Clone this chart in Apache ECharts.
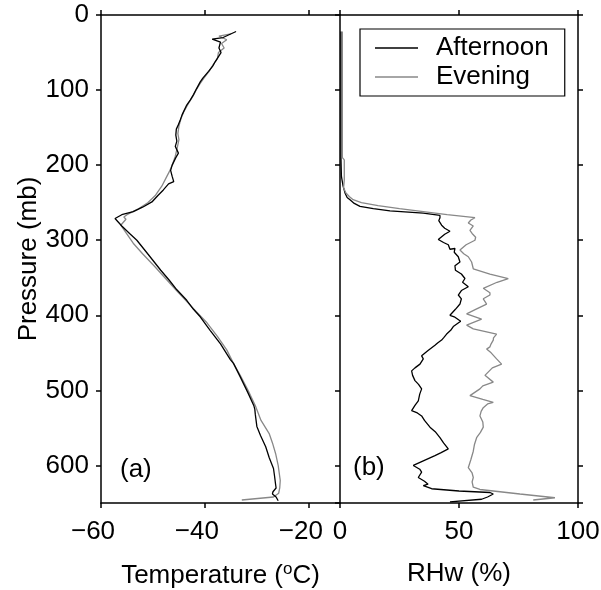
<!DOCTYPE html>
<html>
<head>
<meta charset="utf-8">
<script src="https://cdn.jsdelivr.net/npm/echarts@6/dist/echarts.min.js"></script>
<style>
  html, body { margin: 0; padding: 0; background: #fff; }
  #main { width: 601px; height: 590px; }
</style>
</head>
<body>
<div id="main"></div>
<script>
// temperature profiles, [degC, mb]
var tempAfternoon = [
  [-34.0, 22], [-36.5, 30], [-38.6, 32], [-37.0, 36], [-37.3, 44], [-36.9, 50], [-38.0, 62],
  [-38.5, 68], [-39.3, 75], [-40.4, 84], [-40.9, 89], [-41.6, 98], [-42.2, 106], [-42.8, 113],
  [-43.5, 120], [-44.4, 133], [-44.8, 141], [-45.1, 146], [-45.5, 152], [-45.6, 160],
  [-45.4, 168], [-45.7, 175], [-45.1, 184], [-45.6, 190], [-46.3, 200], [-46.6, 207],
  [-46.3, 215], [-46.0, 222], [-47.0, 225], [-48.0, 233], [-49.0, 240], [-50.2, 249],
  [-52.0, 256], [-53.8, 262], [-56.0, 266], [-57.3, 271], [-56.0, 281], [-54.5, 291],
  [-53.1, 300], [-50.9, 319], [-48.5, 340], [-46.9, 353], [-45.4, 366], [-43.5, 380],
  [-42.2, 392], [-40.9, 402], [-39.0, 420], [-37.0, 438], [-35.1, 459], [-34.5, 464],
  [-33.2, 482], [-31.8, 502], [-30.6, 520], [-30.4, 525], [-30.3, 532], [-30.0, 548],
  [-29.3, 560], [-28.3, 575], [-27.6, 590], [-26.8, 604], [-26.6, 614], [-26.4, 625],
  [-26.3, 630], [-26.9, 635], [-27.0, 638], [-26.3, 642], [-25.9, 647]
];
var tempEvening = [
  [-35.0, 25], [-37.3, 28], [-35.8, 33], [-36.8, 38], [-36.3, 44], [-37.4, 50], [-37.6, 58],
  [-38.4, 66], [-39.2, 75], [-40.2, 84], [-41.0, 92], [-41.7, 100], [-42.3, 108], [-43.2, 118],
  [-44.0, 128], [-44.6, 138], [-45.0, 148], [-45.2, 158], [-45.0, 166], [-45.3, 176],
  [-45.7, 188], [-46.2, 198], [-46.8, 208], [-47.4, 216], [-48.3, 228], [-49.5, 240],
  [-51.0, 250], [-53.0, 259], [-55.0, 266], [-55.6, 269], [-55.2, 272], [-56.2, 280],
  [-55.0, 292], [-53.8, 304], [-52.0, 318], [-49.8, 334], [-47.7, 350], [-45.6, 366],
  [-43.7, 380], [-41.7, 395], [-39.6, 410], [-37.6, 428], [-35.8, 446], [-34.5, 464],
  [-33.2, 480], [-31.7, 500], [-30.2, 522], [-29.2, 540], [-27.6, 558], [-27.0, 570],
  [-26.4, 584], [-25.9, 600], [-25.5, 620], [-25.6, 630], [-25.8, 637], [-26.8, 642],
  [-32.9, 646]
];
// RHw profiles, [%, mb]
var rhAfternoon = [
  [0.4, 22], [0.4, 100], [0.4, 190], [0.6, 215], [1.3, 228], [2.1, 237], [3.0, 243], [4.2, 246],
  [6.0, 251], [8.4, 255], [14, 258], [21, 261], [35, 264], [42, 267], [42, 270], [41.5, 274],
  [42.7, 280], [44, 284], [46.2, 288], [44, 292], [41.3, 299], [43.5, 303], [45.5, 306],
  [46.2, 312], [48.3, 311], [48.0, 316], [49.7, 322], [50.4, 329], [48.3, 334], [48.5, 340],
  [51.0, 345], [52.5, 351], [51.5, 356], [53.9, 362], [51.0, 367], [49.7, 373], [51.0, 378],
  [50.4, 385], [48.5, 392], [46.2, 400], [48.0, 402], [50.7, 408], [47.6, 415], [46.5, 420],
  [44.8, 425], [43.5, 430], [42.7, 433], [41, 437], [39.9, 440], [40.6, 441], [37.0, 447],
  [34.3, 454], [35.0, 458], [33.6, 465], [31.5, 470], [30.1, 474], [30.5, 480], [31.5, 487],
  [33.0, 492], [34.3, 498], [33.5, 505], [32.9, 514], [31.5, 520], [30.1, 527], [32.5, 530],
  [34.3, 534], [35.5, 540], [37.8, 549], [40, 555], [42, 563], [43.5, 570], [45.5, 578],
  [42.5, 583], [39.9, 587], [35, 594], [30.8, 600], [33.5, 605], [34.3, 609], [32.9, 616],
  [35.5, 621], [37, 625], [35, 627], [38.5, 631], [50, 634], [63, 636], [64.4, 638],
  [62, 642], [59.5, 645], [46.2, 648.5]
];
var rhEvening = [
  [1.0, 22], [1.0, 100], [1.0, 190], [1.8, 193], [1.8, 220], [1.0, 220], [1.5, 230], [2.5, 237],
  [4, 242], [5.5, 246], [9, 250], [16, 254], [25, 258], [35, 262], [45, 266], [56.7, 270],
  [55, 273], [53.9, 277], [56, 281], [54.6, 287], [55.5, 291], [57, 296], [56.7, 300],
  [53, 306], [50.4, 313], [52, 318], [53.9, 322], [55.3, 329], [56, 338], [63, 345],
  [70.7, 351], [66, 356], [60.2, 364], [63, 370], [63, 373], [60.2, 378], [61.6, 385],
  [57, 392], [53.2, 398], [59.5, 405], [53.2, 413], [56, 418], [65.8, 425], [64.5, 430],
  [64.4, 433], [63.5, 438], [63, 442], [61.6, 445], [63.5, 450], [65.8, 458], [67.9, 465],
  [64, 470], [60.9, 480], [64.4, 489], [60, 494], [58.8, 498], [54.6, 507], [60, 512],
  [64.4, 516], [62, 518], [60.2, 523], [59.3, 528], [58.8, 534], [60, 542], [60.2, 549],
  [59, 556], [57.4, 563], [56.5, 572], [56, 581], [55, 592], [53.9, 603], [55.5, 610],
  [56, 616], [55.5, 622], [56, 629], [58.8, 632], [75.6, 638], [90.3, 643], [81.2, 646]
];
var seriesNames = ['Afternoon', 'Evening'];
var panelLabels = ['(a)', '(b)'];

var font = "'Liberation Sans', Arial, sans-serif";
var fs = 26;
var axisLineStyle = { color: '#000', width: 1.5 };

function xAx(grid, pos, min, max, interval, showLabel, showMax, name) {
  var ax = {
    type: 'value', gridIndex: grid, position: pos,
    min: min, max: max, interval: interval,
    axisLine: { show: true, onZero: false, lineStyle: axisLineStyle },
    axisTick: { show: true, inside: false, length: 5, lineStyle: axisLineStyle },
    splitLine: { show: false },
    axisLabel: {
      show: showLabel, showMaxLabel: showMax, margin: 16,
      fontSize: fs, fontFamily: font, color: '#000',
      formatter: function (v) { return v < 0 ? '{neg|\u2212' + Math.abs(v) + '}' : String(v); },
      rich: { neg: { fontSize: fs, fontFamily: font, color: '#000', padding: [0, 16, 0, 0] } }
    }
  };
  if (name) {
    ax.name = name;
    ax.nameLocation = 'middle';
    ax.nameGap = 58;
    ax.nameTextStyle = {
      fontSize: fs, fontFamily: font, color: '#000',
      rich: { sup: { fontSize: 17, fontFamily: font, color: '#000', padding: [0, 0, 13, 0] } }
    };
  }
  return ax;
}

function yAx(grid, pos, showLabel, name) {
  var ax = {
    type: 'value', gridIndex: grid, position: pos, inverse: true,
    min: 0, max: 650, interval: 100,
    axisLine: { show: true, onZero: false, lineStyle: axisLineStyle },
    axisTick: { show: true, inside: false, length: 5, lineStyle: axisLineStyle },
    splitLine: { show: false },
    axisLabel: { show: showLabel, showMaxLabel: false, margin: 12, fontSize: fs, fontFamily: font, color: '#000' }
  };
  if (name) {
    ax.name = name;
    ax.nameLocation = 'middle';
    ax.nameGap = 59;
    ax.nameTextStyle = { fontSize: fs, fontFamily: font, color: '#000' };
  }
  return ax;
}

var chart = echarts.init(document.getElementById('main'));
var option = {
  backgroundColor: '#fff',
  animation: false,
  grid: [
    { left: 101, top: 15, width: 239, height: 488, outerBoundsMode: 'none', containLabel: false },
    { left: 340, top: 15, width: 238, height: 488, outerBoundsMode: 'none', containLabel: false }
  ],
  xAxis: [
    xAx(0, 'bottom', -60, -14, 20, true, false, 'Temperature ({sup|o}C)'),
    xAx(0, 'top', -60, -14, 20, false, false),
    xAx(1, 'bottom', 0, 100, 50, true, true, 'RHw (%)'),
    xAx(1, 'top', 0, 100, 50, false, true)
  ],
  yAxis: [
    yAx(0, 'left', true, 'Pressure (mb)'),
    yAx(1, 'left', false),
    yAx(1, 'right', false)
  ],
  legend: {
    data: seriesNames.map(function (n) { return { name: n, icon: 'rect' }; }),
    orient: 'vertical',
    left: 360, top: 29,
    padding: [6, 16, 6, 15],
    itemWidth: 43, itemHeight: 1.4, itemGap: 3,
    borderColor: '#000', borderWidth: 1.2,
    textStyle: { fontSize: fs, fontFamily: font, color: '#000', padding: [0, 0, 0, 13] }
  },
  graphic: [
    { type: 'text', left: 120, top: 457, style: { text: panelLabels[0], fontSize: fs, fontFamily: font, fill: '#000' } },
    { type: 'text', left: 353, top: 455, style: { text: panelLabels[1], fontSize: fs, fontFamily: font, fill: '#000' } }
  ],
  series: [
    { name: seriesNames[1], type: 'line', xAxisIndex: 0, yAxisIndex: 0, data: tempEvening,
      symbol: 'none', lineStyle: { color: '#888', width: 1.3 }, itemStyle: { color: '#888' } },
    { name: seriesNames[0], type: 'line', xAxisIndex: 0, yAxisIndex: 0, data: tempAfternoon,
      symbol: 'none', lineStyle: { color: '#000', width: 1.3 }, itemStyle: { color: '#000' } },
    { name: seriesNames[0], type: 'line', xAxisIndex: 2, yAxisIndex: 1, data: rhAfternoon,
      symbol: 'none', lineStyle: { color: '#000', width: 1.3 }, itemStyle: { color: '#000' } },
    { name: seriesNames[1], type: 'line', xAxisIndex: 2, yAxisIndex: 1, data: rhEvening,
      symbol: 'none', lineStyle: { color: '#888', width: 1.3 }, itemStyle: { color: '#888' } }
  ]
};
chart.setOption(option);
</script>
</body>
</html>
